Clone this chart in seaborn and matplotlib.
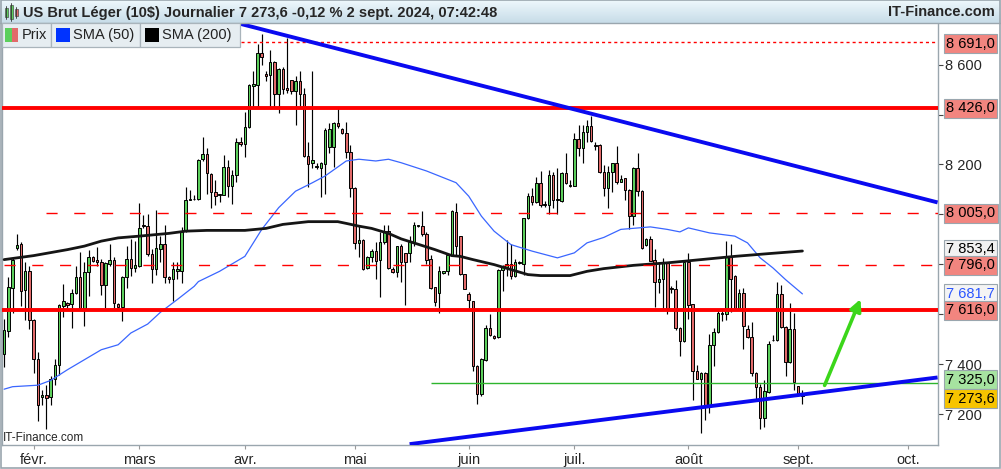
import numpy as np
import pandas as pd
import matplotlib
matplotlib.use("Agg")
import matplotlib.pyplot as plt
import seaborn as sns
from matplotlib.patches import Rectangle
from matplotlib.lines import Line2D
from matplotlib.ticker import FuncFormatter
from matplotlib.colors import LinearSegmentedColormap

sns.set_style("white")
plt.rcParams['font.family'] = ['Liberation Sans', 'DejaVu Sans']

# daily candles, 24 Jan 2024 -> 2 Sep 2024 (sessions without Saturdays / Good Friday)
opens = [7441, 7535, 7707, 7867, 7882, 7696, 7772, 7578, 7421, 7268,
         7275, 7267, 7341, 7398, 7633, 7647, 7640, 7684, 7748, 7625,
         7768, 7828, 7817, 7808, 7718, 7801, 7817, 7640, 7631, 7748,
         7821, 7786, 7794, 7958, 7953, 7842, 7781, 7862, 7882, 7748,
         7743, 7773, 7773, 7933, 8059, 8060, 8060, 8220, 8243, 8160,
         8090, 8078, 8079, 8191, 8114, 8157, 8291, 8282, 8349, 8516,
         8520, 8647, 8563, 8557, 8610, 8484, 8583, 8506, 8537, 8493,
         8533, 8483, 8235, 8204, 8191, 8187, 8201, 8271, 8271, 8368,
         8341, 8328, 8248, 8106, 7884, 7899, 7784, 7828, 7852, 7819,
         7888, 7935, 7781, 7768, 7875, 7846, 7846, 7888, 7952, 7953,
         7922, 7821, 7711, 7687, 7765, 7772, 7837, 8009, 7915, 7761,
         7680, 7653, 7394, 7280, 7418, 7546, 7512, 7510, 7778, 7790,
         7801, 7754, 7804, 7801, 7985, 8074, 8050, 8126, 8043, 8039,
         8157, 8056, 8052, 8164, 8117, 8114, 8301, 8267, 8329, 8356,
         8278, 8278, 8171, 8106, 8168, 8204, 8130, 8144, 8099, 7993,
         8187, 8094, 7878, 7902, 7817, 7731, 7741, 7808, 7705, 7703,
         7546, 7492, 7808, 7640, 7371, 7341, 7365, 7237, 7476, 7530,
         7602, 7602, 7835, 7754, 7627, 7687, 7542, 7510, 7365, 7308,
         7183, 7288, 7496, 7496, 7680, 7550, 7408, 7543, 7311, 7281]
highs = [7580, 7748, 7824, 7922, 7888, 7808, 7792, 7580, 7448, 7298,
         7318, 7351, 7421, 7643, 7721, 7649, 7703, 7792, 7848, 7808,
         7859, 7835, 7868, 7821, 7808, 7882, 7828, 7647, 7753, 7875,
         7902, 7894, 8047, 7996, 8003, 7862, 8016, 7915, 7956, 7754,
         7811, 7808, 7949, 8110, 8097, 8076, 8220, 8312, 8265, 8164,
         8137, 8083, 8238, 8218, 8177, 8305, 8312, 8410, 8522, 8576,
         8684, 8724, 8573, 8657, 8616, 8587, 8590, 8708, 8540, 8553,
         8573, 8506, 8291, 8573, 8204, 8211, 8345, 8365, 8372, 8432,
         8345, 8372, 8278, 8110, 7956, 7902, 7833, 7862, 7888, 7929,
         7956, 7956, 7788, 7875, 7882, 7846, 7915, 7969, 7958, 8012,
         7929, 7837, 7711, 7792, 7774, 7840, 8016, 8047, 7915, 7763,
         7691, 7655, 7398, 7425, 7559, 7600, 7519, 7780, 7797, 7899,
         7882, 7821, 7813, 7987, 8087, 8106, 8150, 8173, 8054, 8177,
         8171, 8184, 8171, 8244, 8137, 8325, 8359, 8359, 8379, 8396,
         8291, 8281, 8197, 8195, 8206, 8275, 8157, 8146, 8103, 8189,
         8244, 8097, 7904, 7915, 7862, 7808, 7824, 7811, 7714, 7738,
         7548, 7815, 7846, 7642, 7398, 7367, 7367, 7523, 7546, 7623,
         7613, 7893, 7882, 7757, 7700, 7707, 7559, 7569, 7367, 7322,
         7338, 7492, 7519, 7731, 7717, 7552, 7644, 7606, 7313, 7298]
lows = [7389, 7510, 7604, 7858, 7633, 7578, 7541, 7365, 7174, 7237,
        7139, 7235, 7318, 7355, 7590, 7627, 7546, 7680, 7623, 7553,
        7674, 7808, 7794, 7678, 7627, 7792, 7627, 7627, 7573, 7707,
        7754, 7768, 7790, 7945, 7835, 7727, 7757, 7808, 7725, 7727,
        7653, 7743, 7727, 7929, 8056, 8056, 8056, 8214, 8083, 8025,
        8036, 8050, 8077, 8070, 8040, 8130, 8275, 8228, 8345, 8430,
        8430, 8598, 8533, 8430, 8430, 8406, 8482, 8486, 8483, 8358,
        8430, 8230, 8110, 8184, 8181, 8070, 8081, 8247, 8191, 8345,
        8321, 8224, 8070, 7862, 7828, 7778, 7781, 7808, 7741, 7671,
        7882, 7781, 7765, 7748, 7731, 7636, 7808, 7872, 7949, 7915,
        7801, 7703, 7633, 7606, 7761, 7757, 7835, 7835, 7758, 7700,
        7627, 7371, 7240, 7271, 7412, 7512, 7502, 7506, 7694, 7754,
        7741, 7748, 7800, 7757, 7983, 8036, 8047, 8030, 8030, 8003,
        8025, 8003, 8050, 8120, 8110, 8112, 8235, 8204, 8291, 8291,
        8258, 8164, 8073, 8025, 8090, 8120, 8128, 8059, 7940, 7956,
        8074, 7862, 7875, 7812, 7631, 7687, 7623, 7600, 7687, 7539,
        7432, 7490, 7582, 7257, 7339, 7123, 7177, 7204, 7392, 7526,
        7573, 7576, 7609, 7623, 7620, 7461, 7506, 7351, 7257, 7139,
        7150, 7284, 7492, 7492, 7546, 7351, 7405, 7298, 7275, 7241]
closes = [7539, 7710, 7817, 7879, 7694, 7772, 7578, 7421, 7235, 7277,
          7264, 7341, 7398, 7636, 7653, 7637, 7687, 7748, 7625, 7768,
          7831, 7815, 7808, 7718, 7804, 7817, 7645, 7631, 7751, 7821,
          7786, 7797, 7946, 7952, 7842, 7781, 7864, 7882, 7751, 7741,
          7781, 7781, 7935, 8059, 8063, 8063, 8218, 8243, 8164, 8090,
          8074, 8081, 8191, 8114, 8157, 8291, 8282, 8352, 8517, 8522,
          8647, 8630, 8556, 8610, 8484, 8583, 8504, 8500, 8493, 8533,
          8483, 8235, 8200, 8218, 8195, 8204, 8338, 8341, 8368, 8356,
          8328, 8248, 8107, 7884, 7899, 7781, 7831, 7852, 7815, 7888,
          7933, 7785, 7768, 7875, 7808, 7808, 7888, 7956, 7956, 7922,
          7819, 7707, 7649, 7772, 7772, 7837, 8012, 7875, 7761, 7703,
          7658, 7392, 7280, 7421, 7546, 7516, 7506, 7778, 7792, 7801,
          7754, 7811, 7808, 7985, 8074, 8050, 8126, 8039, 8039, 8157,
          8059, 8060, 8164, 8124, 8113, 8301, 8267, 8329, 8356, 8295,
          8273, 8171, 8106, 8168, 8204, 8128, 8141, 8097, 7993, 8187,
          8094, 7866, 7902, 7815, 7731, 7741, 7808, 7623, 7700, 7546,
          7492, 7808, 7636, 7371, 7341, 7365, 7237, 7479, 7530, 7606,
          7606, 7835, 7741, 7627, 7687, 7553, 7510, 7365, 7308, 7183,
          7294, 7483, 7499, 7680, 7550, 7408, 7543, 7327, 7282, 7273.6]

# moving averages, read at candle positions
sma50_idx = [0, 2, 8, 11, 15, 19, 23, 27, 30, 34, 37, 41, 45, 46, 51, 53, 57, 61,
             65, 69, 73, 76, 81, 84, 88, 91, 94, 100, 107, 110, 113, 116, 120,
             125, 131, 135, 138, 142, 146, 153, 157, 160, 162, 167, 173, 176,
             179, 182, 185, 189]
sma50_val = [7300, 7310, 7316, 7335, 7378, 7418, 7458, 7478, 7525, 7561, 7608,
             7659, 7712, 7731, 7772, 7792, 7832, 7940, 8027, 8093, 8127, 8154,
             8214, 8221, 8214, 8221, 8207, 8174, 8127, 8073, 7993, 7933, 7879,
             7853, 7826, 7846, 7886, 7908, 7940, 7950, 7940, 7930, 7946, 7926,
             7913, 7886, 7826, 7786, 7739, 7681.7]
sma200_idx = [0, 7, 15, 19, 23, 27, 32, 39, 43, 48, 57, 62, 66, 72, 79, 81, 84,
              87, 91, 94, 97, 102, 106, 108, 111, 116, 120, 124, 127, 134, 138,
              142, 149, 157, 165, 173, 181, 189]
sma200_val = [7819, 7835, 7859, 7873, 7893, 7906, 7913, 7924, 7933, 7936, 7936,
              7944, 7960, 7971, 7971, 7964, 7953, 7944, 7924, 7902, 7886, 7859,
              7835, 7832, 7819, 7799, 7779, 7759, 7755, 7755, 7772, 7783, 7796,
              7806, 7819, 7832, 7843, 7853.4]

# drawn levels: (price, first candle index)
level_8691 = (8691.0, 56)
solid_levels = [8426.0, 7616.0]
dashed_levels = [(8005.0, 10), (7796.0, 0)]
green_level = (7325.0, 101)
# trend lines: (index, price) end points
trend_high = [(56, 8763), (221, 8048)]
trend_low = [(96, 7080), (221, 7347)]
arrow_from = (194, 7305)
arrow_to = (203, 7671)

month_labels = ['févr.', 'mars', 'avr.', 'mai', 'juin', 'juil.', 'août', 'sept.', 'oct.']
month_starts = ['2024-02-01', '2024-03-01', '2024-04-01', '2024-05-01', '2024-06-01',
                '2024-07-01', '2024-08-01', '2024-09-01', '2024-10-01']
price_ticks = [7200, 7400, 7600, 7800, 8000, 8200, 8400, 8600]
covered_ticks = [7600, 7800, 8000, 8400]   # hidden behind the level tags

tags = [(8691.0, '#f2857f', 'black'), (8426.0, '#f2857f', 'black'),
        (8005.0, '#f2857f', 'black'), (7853.4, '#f1f1f1', 'black'),
        (7796.0, '#f2857f', 'black'), (7681.7, '#f4f4f4', '#2a55ff'),
        (7616.0, '#f2857f', 'black'), (7325.0, '#a6e3a0', 'black'),
        (7273.6, '#f7c400', 'black')]
tag_shift = {7853.4: 2, 7325.0: 3, 7273.6: -3, 8691.0: -2}

# session calendar (no Saturdays, no Good Friday)
days = pd.date_range('2024-01-24', '2024-10-31')
sessions = days[(days.dayofweek != 5) & (days != pd.Timestamp('2024-03-29'))]
month_pos = [int(np.searchsorted(sessions, pd.Timestamp(m))) for m in month_starts]

W, H = 1001, 469
fig = plt.figure(figsize=(W / 100, H / 100), dpi=100)
fx = lambda x: x / W
fy = lambda y: 1 - y / H

ax = fig.add_axes([fx(2), fy(445), fx(938) - fx(2), fy(23) - fy(445)])
x0, x1 = -0.5, 221.1
ax.set_xlim(x0, x1)
ax.set_ylim(7076.5, 8766.6)

n = len(opens)
xs = np.arange(n)
o = np.array(opens, float)
c = np.array(closes, float)
up = c >= o
ax.vlines(xs, lows, highs, color='black', lw=0.85, zorder=2)
body = np.maximum(np.abs(c - o), 2.5)
ax.bar(xs, body, bottom=np.minimum(o, c), width=0.6,
       color=np.where(up, '#5ccf5c', '#e26a6a'), edgecolor='black', lw=0.7, zorder=3)

sns.lineplot(x=sma50_idx, y=sma50_val, ax=ax, color='#3a66ff', lw=0.9, sort=False, zorder=4)
sns.lineplot(x=sma200_idx, y=sma200_val, ax=ax, color='#151515', lw=2.0, sort=False, zorder=4)

ax.hlines(level_8691[0], level_8691[1], x1, color='red', lw=1.0, linestyles=(0, (2.2, 2.2)), zorder=5)
for lv in solid_levels:
    ax.axhline(lv, color='red', lw=2.8, zorder=5)
for lv, start in dashed_levels:
    ax.hlines(lv, start, x1, color='red', lw=1.0, linestyles=(0, (8, 12)), zorder=5)
ax.hlines(green_level[0], green_level[1], x1, color='#2db52d', lw=1.0, zorder=5)

for tl in (trend_high, trend_low):
    ax.plot([tl[0][0], tl[1][0]], [tl[0][1], tl[1][1]], color='#0a0af0', lw=2.8,
            solid_capstyle='butt', zorder=6)
ax.annotate('', xy=arrow_to, xytext=arrow_from,
            arrowprops=dict(arrowstyle='-|>', color='#3bd61a', lw=2.6, mutation_scale=17),
            zorder=7)

ax.set_xticks(month_pos)
ax.set_xticklabels(month_labels, fontsize=10.5)
ax.yaxis.tick_right()
ax.set_yticks(price_ticks)
ax.yaxis.set_major_formatter(FuncFormatter(
    lambda v, p: '' if round(v) in covered_ticks else f"{v:,.0f}".replace(",", " ")))
ax.tick_params(axis='y', which='both', right=True, length=3.5, width=0.8, color='#444',
               pad=1.5, labelsize=10.5)
ax.tick_params(axis='x', bottom=True, length=3, width=0.8, color='#999', pad=3, labelsize=10.5)
ax.set_xlabel('')
ax.set_ylabel('')
for side in ('left', 'bottom', 'right'):
    ax.spines[side].set_color('#9aa6ae')
    ax.spines[side].set_linewidth(1.0)
ax.spines['top'].set_visible(False)

for price, face, tcol in tags:
    s = f"{price:,.1f}".replace(",", " ").replace(".", ",")
    ax.annotate(s, xy=(1, price), xycoords=ax.get_yaxis_transform(),
                xytext=(8, tag_shift.get(price, 0)), textcoords='offset pixels',
                ha='left', va='center', fontsize=10.5, color=tcol, zorder=10,
                annotation_clip=False,
                bbox=dict(boxstyle='square,pad=0.17', fc=face, ec='#9aa6ae', lw=0.8))

# header bar
hax = fig.add_axes([0, fy(23), 1, 23 / H])
grad = LinearSegmentedColormap.from_list('hdr', ['#c7dce8', '#eef8fc'])
hax.imshow(np.linspace(0, 1, 50)[:, None], cmap=grad, aspect='auto', extent=[0, 1, 0, 1], origin='lower')
hax.set_axis_off()
fig.add_artist(Line2D([0, 1], [fy(23), fy(23)], transform=fig.transFigure, color='#9aa6ae', lw=1))
for bx, by0, by1, col in [(6, 8, 17, '#5ccf5c'), (11, 5, 19, '#5ccf5c'), (16, 9, 16, '#e26a6a')]:
    fig.add_artist(Line2D([fx(bx), fx(bx)], [fy(by1 + 2), fy(by0 - 2)], transform=fig.transFigure,
                          color='#333', lw=0.6))
    fig.add_artist(Rectangle((fx(bx - 1.5), fy(by1)), fx(3), (by1 - by0) / H,
                             transform=fig.transFigure, fc=col, ec='#333', lw=0.4))
fig.text(fx(23), fy(12.5), "US Brut Léger (10\\$) Journalier 7 273,6 -0,12 % 2 sept. 2024, 07:42:48",
         fontsize=10.5, fontweight='bold', va='center', ha='left')
fig.text(fx(995), fy(12.5), "IT-Finance.com", fontsize=10.5, fontweight='bold', va='center', ha='right')

# legend row
for lx0, lx1 in [(2, 51), (51, 140), (140, 240)]:
    fig.add_artist(Rectangle((fx(lx0), fy(47)), fx(lx1 - lx0), 24 / H, transform=fig.transFigure,
                             fc='#e6edf1', ec='#a9b4bb', lw=0.9, zorder=20))
fig.add_artist(Rectangle((fx(5), fy(42)), fx(6.5), 14 / H, transform=fig.transFigure,
                         fc='#5ccf5c', ec='none', zorder=21))
fig.add_artist(Rectangle((fx(11.5), fy(42)), fx(6.5), 14 / H, transform=fig.transFigure,
                         fc='#e26a6a', ec='none', zorder=21))
fig.add_artist(Rectangle((fx(56), fy(42)), fx(14), 14 / H, transform=fig.transFigure,
                         fc='#0033ff', ec='none', zorder=21))
fig.add_artist(Rectangle((fx(145), fy(42)), fx(14), 14 / H, transform=fig.transFigure,
                         fc='black', ec='none', zorder=21))
for tx, t in [(22, 'Prix'), (73, 'SMA (50)'), (162, 'SMA (200)')]:
    fig.text(fx(tx), fy(35), t, fontsize=10.5, color='#222', va='center', ha='left', zorder=22)

fig.text(fx(3), fy(438), "IT-Finance.com", fontsize=8.5, va='center', ha='left')

# outer frame
fig.add_artist(Rectangle((fx(0.5), fy(467.5)), fx(999.5), 467 / H, transform=fig.transFigure,
                         fc='none', ec='#9aa6ae', lw=1.2, zorder=30))

fig.savefig('out.png', dpi=100)
